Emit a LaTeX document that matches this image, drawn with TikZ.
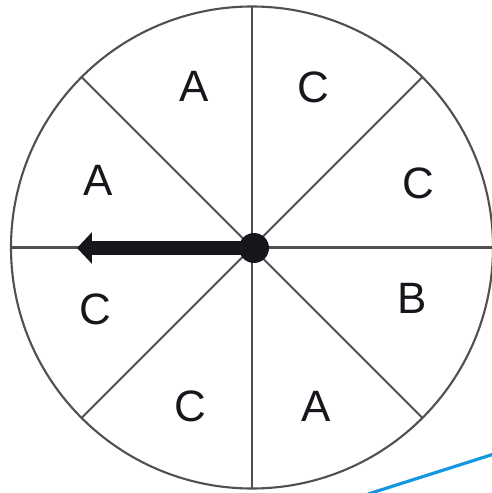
\documentclass[tikz,border=0pt]{standalone}
\usepackage{fontspec}
\setmainfont{Liberation Sans}
\usetikzlibrary{arrows.meta}
\definecolor{spinline}{RGB}{80,80,80}
\definecolor{spinink}{RGB}{22,22,28}
\definecolor{penblue}{RGB}{20,150,225}
\tikzset{
  letter/.style={font=\fontsize{25}{29}\selectfont,text=spinink,inner sep=0pt},
  rim/.style={spinline,line width=1.2pt}
}

\begin{document}
\begin{tikzpicture}[x=0.02cm,y=-0.02cm]
  \useasboundingbox (0,0) rectangle (492,493);
  \coordinate (c) at (252,247.5);
  \draw[rim] (c) circle[radius=241];
  \foreach \a in {0,45,...,315} \draw[rim] (c) -- ++(\a:241);
  % sector letters
  \foreach \t/\px/\py [count=\i] in {A/194/86, C/313/87, C/418/183, B/412/298,
      A/316/406, C/190/406, C/95/309, A/98/180}
    \node[letter] (s\i) at (\px,\py) {\t};
  % pointer
  \node[circle,fill=spinink,minimum size=0.6cm,inner sep=0pt] (hub) at (254,248) {};
  \coordinate (tip) at (77,248);
  \draw[spinink,line width=7.5pt,-{Triangle[length=0.3cm,width=0.62cm]}] (hub.center) -- (tip);
  \draw[penblue,line width=1.8pt] (368,494) -- (494,454);
\end{tikzpicture}
\end{document}
